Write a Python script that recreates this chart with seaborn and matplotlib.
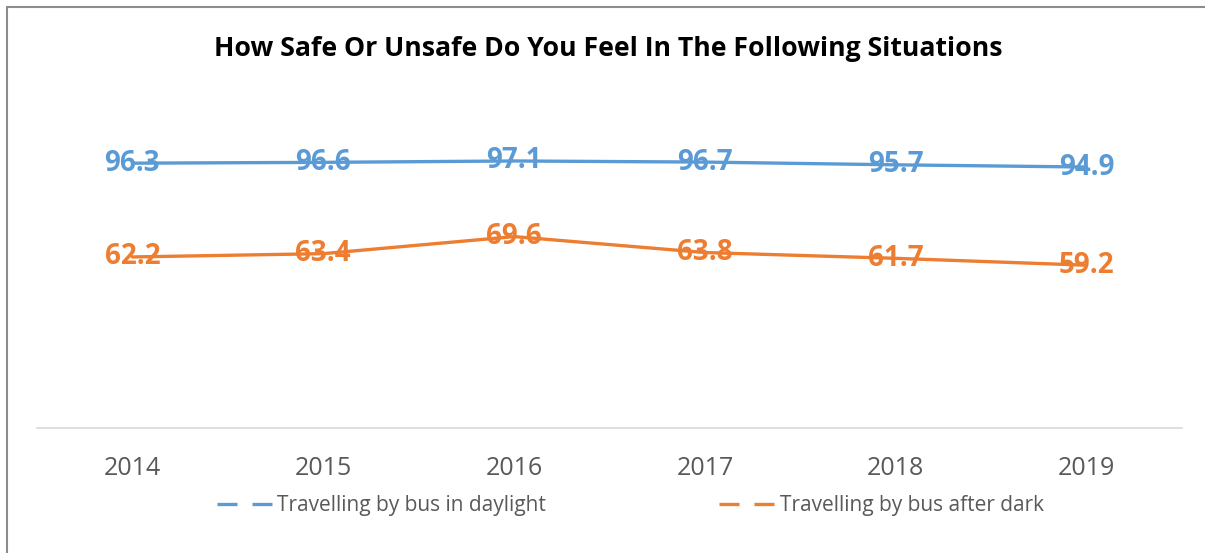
import matplotlib
matplotlib.use("Agg")
import matplotlib.pyplot as plt
from matplotlib.lines import Line2D
import seaborn as sns
import pandas as pd

years = ["2014", "2015", "2016", "2017", "2018", "2019"]
daylight = [96.3, 96.6, 97.1, 96.7, 95.7, 94.9]
after_dark = [62.2, 63.4, 69.6, 63.8, 61.7, 59.2]
series_names = ["Travelling by bus in daylight", "Travelling by bus after dark"]
colors = ["#5B9BD5", "#ED7D31"]

sns.set_style("white")
plt.rcParams['font.family'] = ['Open Sans', 'DejaVu Sans']

df = pd.DataFrame({
    "year": years * 2,
    "value": daylight + after_dark,
    "series": [series_names[0]] * len(years) + [series_names[1]] * len(years),
})

fig = plt.figure(figsize=(12.05, 5.53), dpi=100)
ax = fig.add_axes([37 / 1205, 125 / 553, 1145 / 1205, 330 / 553])

sns.lineplot(data=df, x="year", y="value", hue="series", palette=colors,
             linewidth=2.4, sort=False, legend=False, ax=ax)

# data labels centred on the points
for vals, c in zip([daylight, after_dark], colors):
    for i, v in enumerate(vals):
        ax.text(i, v, f"{v:.1f}", color=c, fontsize=20, fontweight="bold",
                ha="center", va="center")

ax.set_xlim(-0.5, 5.5)
ax.set_ylim(0, 120)
ax.set_yticks([])
ax.set_xlabel("")
ax.set_ylabel("")
for s in ["top", "right", "left"]:
    ax.spines[s].set_visible(False)
ax.spines["bottom"].set_color("#D9D9D9")
ax.spines["bottom"].set_linewidth(1.2)
ax.tick_params(axis="x", length=0, pad=20.5, labelsize=18, labelcolor="#595959")

fig.text(0.505, 0.912, "How Safe Or Unsafe Do You Feel In The Following Situations",
         ha="center", va="center", fontsize=19.2, fontweight="bold", color="black")

handles = [Line2D([0], [0], color=c, linewidth=2.4, linestyle=(0, (6, 4.5)))
           for c in colors]
leg = fig.legend(handles, series_names, loc="center", bbox_to_anchor=(0.523, 0.086),
                 ncol=2, frameon=False, fontsize=15, columnspacing=8.3,
                 handlelength=2.65, handletextpad=0.25)
for t in leg.get_texts():
    t.set_color("#595959")

# chart border (left and top edges visible)
fig.add_artist(Line2D([7 / 1205, 7 / 1205], [0, 1 - 7 / 553], color="#8C8C8C", linewidth=1.5))
fig.add_artist(Line2D([7 / 1205, 1], [1 - 7 / 553, 1 - 7 / 553], color="#8C8C8C", linewidth=1.5))

fig.savefig("out.png", dpi=100)
